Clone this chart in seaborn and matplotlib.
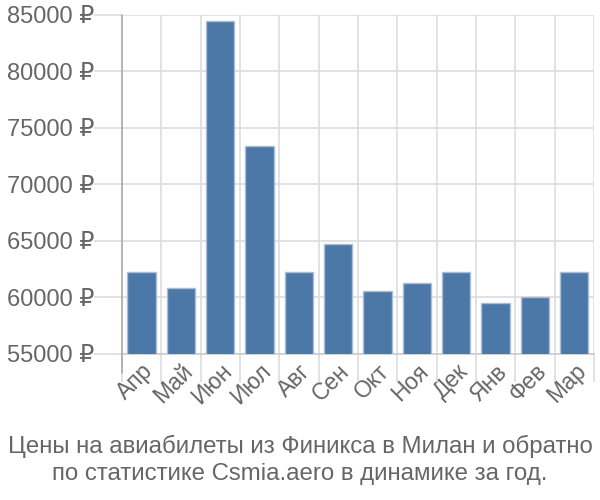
import matplotlib
matplotlib.use("Agg")
import matplotlib.pyplot as plt
import seaborn as sns
import pandas as pd
import numpy as np

months = ["Апр", "Май", "Июн", "Июл", "Авг", "Сен", "Окт", "Ноя", "Дек", "Янв", "Фев", "Мар"]
prices = [62290, 60880, 84500, 73390, 62290, 64710, 60560, 61270, 62290, 59510, 60000, 62290]
yticks = [55000, 60000, 65000, 70000, 75000, 80000, 85000]
title = "Цены на авиабилеты из Финикса в Милан и обратно\nпо статистике Csmia.aero в динамике за год."

sns.set_theme(style="white")
plt.rcParams['font.family'] = ['Liberation Sans', 'DejaVu Sans']

df = pd.DataFrame({"month": months, "price": prices})

fig = plt.figure(figsize=(6, 5), dpi=100)
ax = fig.add_axes([0.203, 0.292, 0.787, 0.678])

sns.barplot(data=df, x="month", y="price", ax=ax, color="#4c78a8", saturation=1,
            width=0.72, edgecolor="#a9bfd8", linewidth=1, zorder=3)

grid_c = "#dddddd"
ax.set_ylim(55000, 85000)
ax.set_xlim(-0.5, len(months) - 0.5)
ax.set_yticks(yticks)
ax.set_yticklabels([f"{v} ₽" for v in yticks])
ax.yaxis.grid(True, color=grid_c, linewidth=1.2, zorder=0)
ax.set_axisbelow(True)

# vertical grid lines at category boundaries, extending below axis as ticks
bounds = np.arange(-0.5, len(months), 1.0)
ax.set_xticks(bounds, minor=True)
ax.xaxis.grid(True, which="minor", color=grid_c, linewidth=1.2, zorder=0)
ax.tick_params(axis="x", which="minor", length=20, color=grid_c, width=1.2, bottom=True)
ax.tick_params(axis="x", which="major", length=0, pad=4, labelsize=16.5, labelcolor="#666666")
ax.tick_params(axis="y", which="major", length=20, color=grid_c, width=1.2, left=True,
               pad=0, labelsize=17, labelcolor="#666666")
plt.setp(ax.get_xticklabels(), rotation=45, ha="right", rotation_mode="anchor")

for s in ["top", "right", "left"]:
    ax.spines[s].set_visible(False)
ax.axvline(-0.5, ymin=-0.057, ymax=1, color="#aaaaaa", linewidth=1.2, clip_on=False, zorder=4)
ax.spines["bottom"].set_color("#cccccc")
ax.spines["bottom"].set_linewidth(1.2)
ax.set_xlabel("")
ax.set_ylabel("")

fig.text(0.5, 0.08, title, ha="center", va="center", fontsize=17.3, color="#666666",
         linespacing=1.25)

fig.savefig("out.png", dpi=100, facecolor="white")
